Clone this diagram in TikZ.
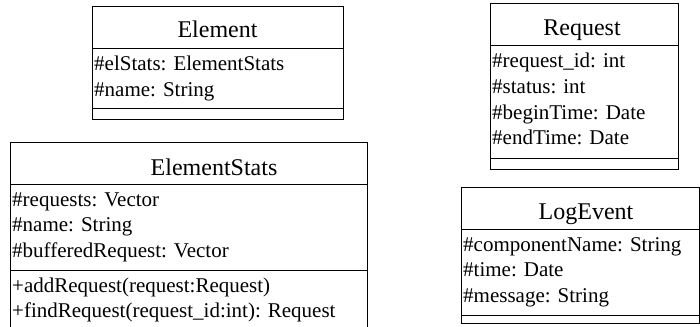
\documentclass[tikz,border=0pt]{standalone}
\usepackage{fontspec}
\setmainfont{Liberation Serif}
\begin{document}
\begin{tikzpicture}[x=1pt,y=-1pt,
  box/.style={draw=black,line width=1pt},
  ttl/.style={font=\fontsize{24}{28}\selectfont, anchor=base, inner sep=0pt},
  attr/.style={font=\fontsize{21}{25}\selectfont, anchor=base west, inner sep=0pt}]
\useasboundingbox (0,0) rectangle (700,326);
\clip (0,0) rectangle (700,326);
% Element
\draw[box] (92,7) rectangle (343.5,119);
\draw[box] (92,49) -- (343.5,49);
\draw[box] (92,108) -- (343.5,108);
\node[ttl] (elT) at (217.5,38) {Element};
\node[attr] (elA1) at (94,71) {\#elStats: ElementStats};
\node[attr] (elA2) at (94,96.5) {\#name: String};
% Request
\draw[box] (490,3.5) rectangle (678,169);
\draw[box] (490,46) -- (678,46);
\draw[box] (490,158) -- (678,158);
\node[ttl] (rqT) at (582,36) {Request};
\node[attr] (rqA1) at (492,68) {\#request\_id: int};
\node[attr] (rqA2) at (492,93.5) {\#status: int};
\node[attr] (rqA3) at (492,119) {\#beginTime: Date};
\node[attr] (rqA4) at (492,144.5) {\#endTime: Date};
% ElementStats
\draw[box] (10.5,330) -- (10.5,142) -- (367,142) -- (367,330);
\draw[box] (10.5,184) -- (367,184);
\draw[box] (10.5,270) -- (367,270);
\node[ttl] (esT) at (214,175) {ElementStats};
\node[attr] (esA1) at (12,206) {\#requests: Vector};
\node[attr] (esA2) at (12,231.5) {\#name: String};
\node[attr] (esA3) at (12,257) {\#bufferedRequest: Vector};
\node[attr] (esO1) at (12,292) {+addRequest(request:Request)};
\node[attr] (esO2) at (12,317.5) {+findRequest(request\_id:int): Request};
% LogEvent
\draw[box] (461,187) rectangle (699,323);
\draw[box] (461,229) -- (699,229);
\draw[box] (461,315) -- (699,315);
\node[ttl] (leT) at (586,219) {LogEvent};
\node[attr] (leA1) at (463,251) {\#componentName: String};
\node[attr] (leA2) at (463,276.5) {\#time: Date};
\node[attr] (leA3) at (463,302) {\#message: String};
\end{tikzpicture}
\end{document}
